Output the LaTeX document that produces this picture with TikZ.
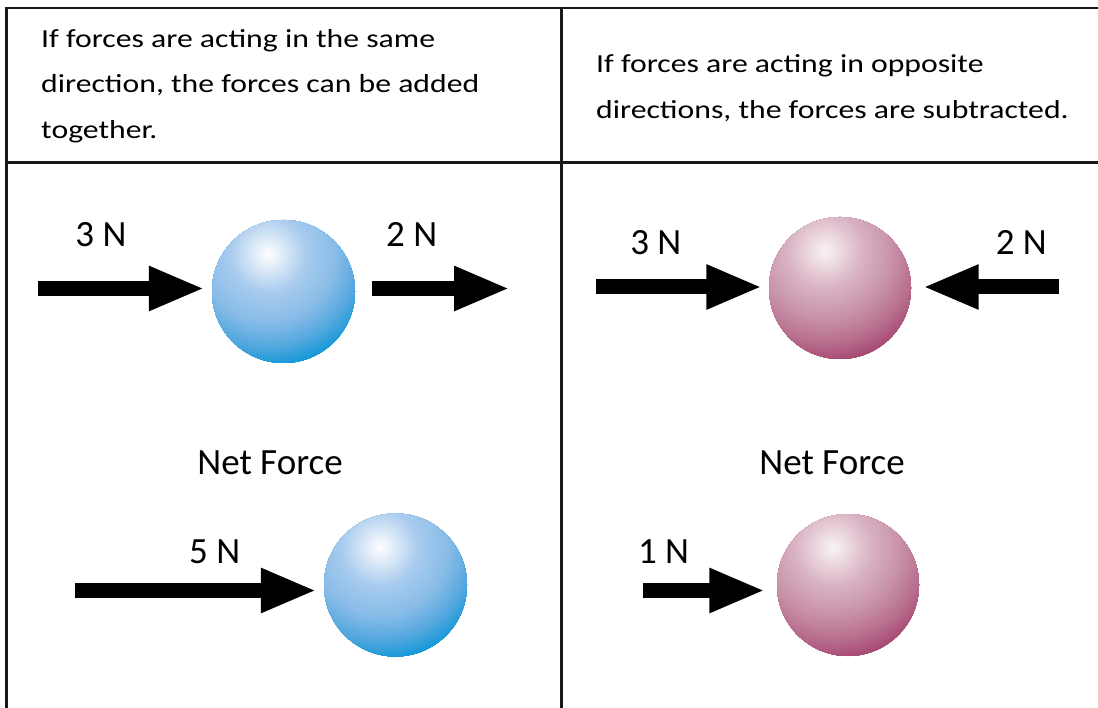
\documentclass[tikz,border=0pt]{standalone}
\usepackage{fontspec}
\setmainfont{Carlito}
\newfontfamily\headfont[FakeStretch=1.22]{Carlito}
\usetikzlibrary{arrows.meta}
\definecolor{b0}{HTML}{FFFFFF}\definecolor{b1}{HTML}{F4F8FD}
\definecolor{b2}{HTML}{D0E3F5}\definecolor{b3}{HTML}{A8CBEE}
\definecolor{b4}{HTML}{8ABDE8}\definecolor{b5}{HTML}{55A8DF}
\definecolor{b6}{HTML}{1A9AD8}\definecolor{b7}{HTML}{0096D6}
\definecolor{p0}{HTML}{F9F3F6}\definecolor{p1}{HTML}{F5EBF0}
\definecolor{p2}{HTML}{E8D0DA}\definecolor{p3}{HTML}{D9B3C3}
\definecolor{p4}{HTML}{C993AA}\definecolor{p5}{HTML}{B86F8E}
\definecolor{p6}{HTML}{A94C74}\definecolor{p7}{HTML}{A43F69}
% #1 node name, #2 colour prefix (b or p), #3 radius in pt
\newcommand\drawsphere[3]{%
  \begin{scope}
    \clip (#1.center) circle (#3pt);
    \fill[#27] (#1.center) circle (#3pt);
    \foreach \da/\db/\ca/\cb in {1.55/1.7/6/7, 1.3/1.55/5/6, 0.95/1.3/4/5,
        0.55/0.95/3/4, 0.3/0.55/2/3, 0.08/0.3/1/2, 0/0.08/0/1}{%
      \foreach \k in {0,...,11}{%
        \pgfmathsetmacro\rr{(\db-(\db-\da)*\k/12)*#3}%
        \pgfmathsetmacro\pp{\k*100/12}%
        \fill[fill=#2\ca!\pp!#2\cb] ([shift={(-0.21*#3,-0.52*#3)}]#1.center) circle (\rr pt);
      }%
    }%
  \end{scope}}
\begin{document}
\begin{tikzpicture}[x=1pt,y=-1pt,
  rule/.style={line width=2.6pt, draw=black!90},
  head/.style={font=\headfont\fontsize{26pt}{30pt}\selectfont, anchor=base west, inner sep=0pt},
  lab/.style={font=\fontsize{37pt}{42pt}\selectfont, anchor=base, inner sep=0pt},
  sphere/.style={circle, inner sep=0pt, minimum size=143pt},
  force/.style={line width=15pt, -{Triangle[length=56pt,width=41pt]}}]
\useasboundingbox (0,0) rectangle (1098,708);
% table rules
\draw[rule] (6.5,8) -- (1098,8);
\draw[rule] (6.5,162.5) -- (1098,162.5);
\draw[rule] (6.5,6.7) -- (6.5,708);
\draw[rule] (561.5,6.7) -- (561.5,708);
% headers
\node[head] (h1) at (41,47.7) {If forces are acting in the same};
\node[head] (h2) at (41,93) {direction, the forces can be added};
\node[head] (h3) at (41,138.5) {together.};
\node[head] (h4) at (596,72.7) {If forces are acting in opposite};
\node[head] (h5) at (596,118.5) {directions, the forces are subtracted.};
% balls
\node[sphere] (B1) at (283.5,291.5) {};
\node[sphere] (B2) at (840,288) {};
\node[sphere] (B3) at (395.5,585) {};
\node[sphere] (B4) at (848,585) {};
\drawsphere{B1}{b}{71.5}
\drawsphere{B2}{p}{71}
\drawsphere{B3}{b}{71.5}
\drawsphere{B4}{p}{71}
% arrow free ends
\coordinate (t1) at (38,288.5);
\coordinate (t2) at (510,288.5);
\coordinate (t3) at (596,287);
\coordinate (t4) at (1059,287);
\coordinate (t5) at (75,590.5);
\coordinate (t6) at (643,590.5);
\draw[force, shorten >=7pt] (t1) -- (t1 -| B1.west);
\draw[force, shorten <=17pt] (t2 -| B1.east) -- (t2);
\draw[force, shorten >=6pt] (t3) -- (t3 -| B2.west);
\draw[force, shorten >=11pt] (t4) -- (t4 -| B2.east);
\draw[force, shorten >=7pt] (t5) -- (t5 -| B3.west);
\draw[force, shorten >=11pt] (t6) -- (t6 -| B4.west);
% labels
\node[lab] (l1) at (101,246.7) {3 N};
\node[lab] (l2) at (411.7,246.7) {2 N};
\node[lab] (l3) at (655.8,255) {3 N};
\node[lab] (l4) at (1021.3,255) {2 N};
\node[lab] (n1) at (270,475) {Net Force};
\node[lab] (n2) at (832,475) {Net Force};
\node[lab] (l5) at (214.7,563) {5 N};
\node[lab] (l6) at (663.5,563) {1 N};
\end{tikzpicture}
\end{document}
